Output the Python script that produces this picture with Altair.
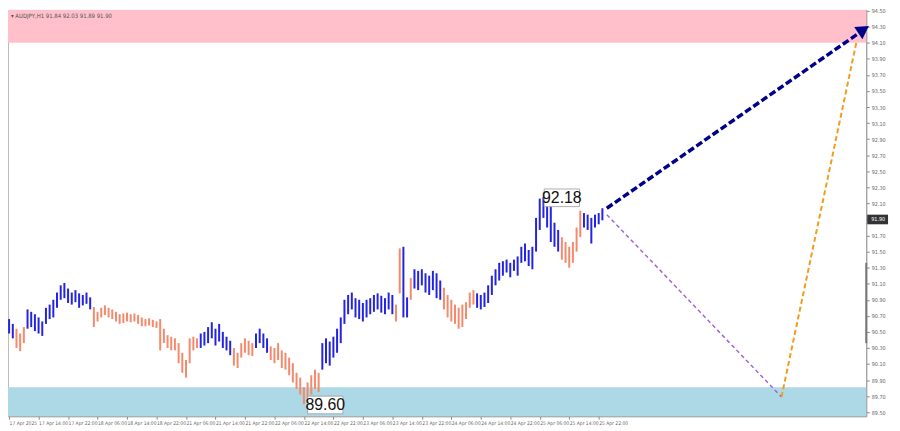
import altair as alt
import pandas as pd

title_text = "\u25be AUDJPY,H1  91.84 92.03 91.89 91.90"

highs = [90.66, 90.60, 90.54, 90.48, 90.56, 90.78, 90.75, 90.72, 90.68, 90.63,
         90.80, 90.84, 90.90, 90.99, 91.08, 91.11, 91.04, 90.99, 91.02, 90.98,
         90.96, 90.99, 90.93, 90.81, 90.75, 90.80, 90.83, 90.80, 90.78, 90.75,
         90.72, 90.73, 90.74, 90.72, 90.73, 90.71, 90.68, 90.66, 90.67, 90.65,
         90.63, 90.66, 90.54, 90.46, 90.44, 90.42, 90.36, 90.24, 90.15, 90.42,
         90.44, 90.42, 90.48, 90.50, 90.56, 90.62, 90.54, 90.60, 90.50, 90.44,
         90.39, 90.30, 90.24, 90.36, 90.42, 90.39, 90.36, 90.48, 90.54, 90.48,
         90.42, 90.32, 90.30, 90.36, 90.27, 90.24, 90.18, 90.11, 89.99, 89.93,
         89.81, 89.87, 89.96, 90.03, 89.99, 90.36, 90.42, 90.38, 90.44, 90.54,
         90.68, 90.90, 90.96, 90.99, 90.92, 90.90, 90.86, 90.90, 90.92, 90.96,
         90.98, 90.95, 90.92, 90.99, 90.96, 90.84, 91.54, 91.56, 90.93, 91.17,
         91.28, 91.26, 91.28, 91.23, 91.20, 91.26, 91.23, 91.14, 91.05, 90.96,
         90.90, 90.84, 90.80, 90.84, 90.87, 90.99, 91.02, 90.98, 90.96, 90.99,
         91.08, 91.20, 91.28, 91.36, 91.38, 91.40, 91.36, 91.40, 91.44, 91.56,
         91.60, 91.52, 91.56, 91.92, 92.16, 92.18, 92.10, 92.10, 91.86, 91.77,
         91.68, 91.62, 91.56, 91.62, 91.80, 92.01, 91.98, 91.96, 91.92, 91.96,
         91.98, 92.04]

lows = [90.48, 90.42, 90.30, 90.26, 90.36, 90.54, 90.56, 90.51, 90.48, 90.45,
        90.60, 90.66, 90.68, 90.80, 90.90, 90.92, 90.86, 90.84, 90.87, 90.80,
        90.83, 90.85, 90.78, 90.56, 90.63, 90.68, 90.71, 90.68, 90.66, 90.63,
        90.60, 90.61, 90.63, 90.62, 90.63, 90.60, 90.57, 90.57, 90.58, 90.56,
        90.55, 90.27, 90.36, 90.30, 90.27, 90.27, 90.11, 89.99, 89.93, 90.11,
        90.27, 90.30, 90.30, 90.33, 90.36, 90.42, 90.33, 90.38, 90.30, 90.27,
        90.21, 90.08, 90.05, 90.18, 90.24, 90.21, 90.20, 90.30, 90.36, 90.30,
        90.24, 90.15, 90.11, 90.15, 90.05, 90.03, 89.96, 89.87, 89.79, 89.72,
        89.60, 89.67, 89.72, 89.79, 89.75, 90.03, 90.11, 90.08, 90.18, 90.24,
        90.36, 90.60, 90.72, 90.78, 90.68, 90.66, 90.63, 90.68, 90.72, 90.75,
        90.78, 90.74, 90.72, 90.78, 90.72, 90.63, 90.98, 90.68, 90.68, 90.90,
        91.04, 91.02, 91.08, 90.99, 90.96, 91.02, 90.92, 90.90, 90.78, 90.68,
        90.63, 90.60, 90.54, 90.56, 90.66, 90.80, 90.84, 90.80, 90.78, 90.81,
        90.86, 90.96, 91.08, 91.14, 91.20, 91.24, 91.18, 91.26, 91.20, 91.36,
        91.38, 91.32, 91.28, 91.50, 91.77, 91.92, 91.80, 91.62, 91.56, 91.50,
        91.40, 91.36, 91.30, 91.36, 91.50, 91.68, 91.80, 91.77, 91.60, 91.80,
        91.84, 91.89]

# wave direction of each bar: u = rising wave (blue), d = falling wave (salmon)
dirs = list("uu" "ddd"
            "uuuuuu" "uuuuuu" "uuuuuu"
            "dddddddddd" "dddddddddd" "ddddddddd"
            "uuuuuuuuu"
            "dddddd"
            "uuuu"
            "dddddddddd" "dddd"
            "uuuuuuuuuu" "uuuuuuuuuu"
            "dd" "uu" "d"
            "uuuuuuuu"
            "ddddddddd"
            "uuuuuuuuuu" "uuuuuuuuuu" "uuu"
            "dddddd"
            "uuuuuu")

time_labels = ["17 Apr 2025", "17 Apr 14:00", "17 Apr 22:00", "18 Apr 06:00",
               "18 Apr 14:00", "18 Apr 22:00", "21 Apr 06:00", "21 Apr 14:00",
               "21 Apr 22:00", "22 Apr 06:00", "22 Apr 14:00", "22 Apr 22:00",
               "23 Apr 06:00", "23 Apr 14:00", "23 Apr 22:00", "24 Apr 06:00",
               "24 Apr 14:00", "24 Apr 22:00", "25 Apr 06:00", "25 Apr 14:00",
               "25 Apr 22:00"]
label_bars = [0, 8, 16, 24, 32, 40, 48, 56, 64, 72, 80, 88, 96, 104, 112,
              120, 128, 136, 144, 152, 160]

price_ticks = [89.5, 89.7, 89.9, 90.1, 90.3, 90.5, 90.7, 90.9, 91.1, 91.3,
               91.5, 91.7, 91.9, 92.1, 92.3, 92.5, 92.7, 92.9, 93.1, 93.3,
               93.5, 93.7, 93.9, 94.1, 94.3, 94.5]

# target zones
zone_lo = [94.10, 89.45]
zone_hi = [94.51, 89.81]
zone_col = ["#ffc0cb", "#add8e6"]

# forecast paths (bar index, price)
main_x = [162.2, 230.6]
main_y = [92.04, 94.22]
tip_x = [231.4]
tip_y = [94.25]
alt_x = [162.2, 209.6]
alt_y = [91.96, 89.69]
alt2_x = [209.6, 230.0]
alt2_y = [89.69, 94.12]

last_price = 91.90

BLUE = "#2323e2"
SALMON = "#f5896c"
W, H = 866, 410
AXFONT = "Liberation Sans Narrow, DejaVu Sans Condensed, Liberation Sans, sans-serif"

xs = alt.Scale(domain=[-0.3, 232.6], nice=False, zero=False)
ys = alt.Scale(domain=[89.45, 94.51], nice=False, zero=False)

bars = pd.DataFrame({"i": list(range(len(highs))), "high": highs, "low": lows, "dir": dirs})
zones = pd.DataFrame({"lo": zone_lo, "hi": zone_hi, "col": zone_col})

label_expr = "[" + ",".join("'%s'" % t for t in time_labels) + "][round(datum.value/8)]"

x_axis = alt.Axis(values=label_bars, labelExpr=label_expr, labelAlign="left",
                  labelFontSize=5, labelFont=AXFONT, labelColor="#666", tickColor="#888",
                  domainColor="#999", tickSize=3, labelPadding=1, grid=False, zindex=0,
                  title=None, labelOverlap=False, labelBound=False, labelFlush=False)
y_axis = alt.Axis(orient="right", values=price_ticks, format=".2f",
                  labelFontSize=5.5, labelFont=AXFONT, labelColor="#666", tickColor="#888",
                  domainColor="#999", tickSize=3, labelPadding=2, grid=False, zindex=0,
                  title=None, labelOverlap=False, labelBound=False, labelFlush=False)

zone_layer = alt.Chart(zones).mark_rect().encode(
    x=alt.value(0), x2=alt.value(W),
    y=alt.Y("lo:Q", scale=ys, axis=y_axis), y2="hi:Q",
    color=alt.Color("col:N", scale=None, legend=None))

bar_layer = alt.Chart(bars).mark_rule(strokeWidth=2).encode(
    x=alt.X("i:Q", scale=xs, axis=x_axis),
    y=alt.Y("low:Q", scale=ys, axis=y_axis), y2="high:Q",
    color=alt.Color("dir:N", scale=alt.Scale(domain=["u", "d"], range=[BLUE, SALMON]), legend=None))

def path(xv, yv, color, width, dash):
    df = pd.DataFrame({"x": xv, "y": yv})
    return alt.Chart(df).mark_line(color=color, strokeWidth=width, strokeDash=dash, clip=False).encode(
        x=alt.X("x:Q", scale=xs, axis=x_axis), y=alt.Y("y:Q", scale=ys, axis=y_axis))

main_line = path(main_x, main_y, "#00008b", 3.5, [7, 3])
alt_line = path(alt_x, alt_y, "#a066d3", 1.5, [4, 3])
alt2_line = path(alt2_x, alt2_y, "#f39c1b", 2, [5, 3])

tip = alt.Chart(pd.DataFrame({"x": tip_x, "y": tip_y})).mark_point(
    shape="triangle", filled=True, color="#00008b", size=220, angle=56, opacity=1, clip=False).encode(
    x=alt.X("x:Q", scale=xs, axis=x_axis), y=alt.Y("y:Q", scale=ys, axis=y_axis))

# extremes labels derived from the data
peak_i = highs.index(max(highs))
low_i = lows.index(min(lows))
ext = pd.DataFrame({
    "x": [peak_i + 5.0, low_i + 5.8],
    "y": [max(highs) - 0.01, min(lows) - 0.01],
    "t": ["%.2f" % max(highs), "%.2f" % min(lows)],
})
ext_box = alt.Chart(ext).transform_calculate(
    x1="datum.x - 4.8", x2="datum.x + 4.8", y1="datum.y - 0.11", y2="datum.y + 0.11"
).mark_rect(fill="white", stroke="#999", strokeWidth=0.8, clip=False).encode(
    x=alt.X("x1:Q", scale=xs, axis=x_axis), x2="x2:Q",
    y=alt.Y("y1:Q", scale=ys, axis=y_axis), y2="y2:Q")
ext_text = alt.Chart(ext).mark_text(fontSize=16, font="Liberation Sans", color="#111", clip=False).encode(
    x=alt.X("x:Q", scale=xs, axis=x_axis), y=alt.Y("y:Q", scale=ys, axis=y_axis), text="t:N")

# last price box on the axis (covers the 91.90 tick label, as in the terminal)
lp = pd.DataFrame({"y": [last_price], "y1": [last_price - 0.06], "y2": [last_price + 0.06],
                   "t": ["%.2f" % last_price]})
lp_box = alt.Chart(lp).mark_rect(color="#333", clip=False).encode(
    x=alt.value(W + 1), x2=alt.value(W + 22), y=alt.Y("y1:Q", scale=ys, axis=y_axis), y2="y2:Q")
lp_text = alt.Chart(lp).mark_text(fontSize=5.5, font=AXFONT, color="white", align="left", clip=False).encode(
    x=alt.value(W + 5), y=alt.Y("y:Q", scale=ys, axis=y_axis), text="t:N")

range_df = pd.DataFrame({"a": [90.36], "b": [91.36]})
range_bar = alt.Chart(range_df).mark_rule(color="#777", strokeWidth=2, clip=False).encode(
    x=alt.value(W), y=alt.Y("a:Q", scale=ys, axis=y_axis), y2="b:Q")

title_layer = alt.Chart(pd.DataFrame({"t": [title_text]})).mark_text(
    fontSize=6, font=AXFONT, color="#555", align="left", baseline="top").encode(
    x=alt.value(3), y=alt.value(3), text="t:N")

chart = alt.layer(
    zone_layer, bar_layer, alt_line, alt2_line, main_line, tip,
    ext_box, ext_text, range_bar, lp_box, lp_text, title_layer
).properties(
    width=W, height=H, autosize=alt.AutoSizeParams(type="none"),
    padding={"left": 0, "top": 0, "right": 26, "bottom": 12},
    background="white"
).configure_view(stroke="#bbb", strokeWidth=1)

chart.save("out.html", embed_options={"renderer": "svg", "actions": False})
